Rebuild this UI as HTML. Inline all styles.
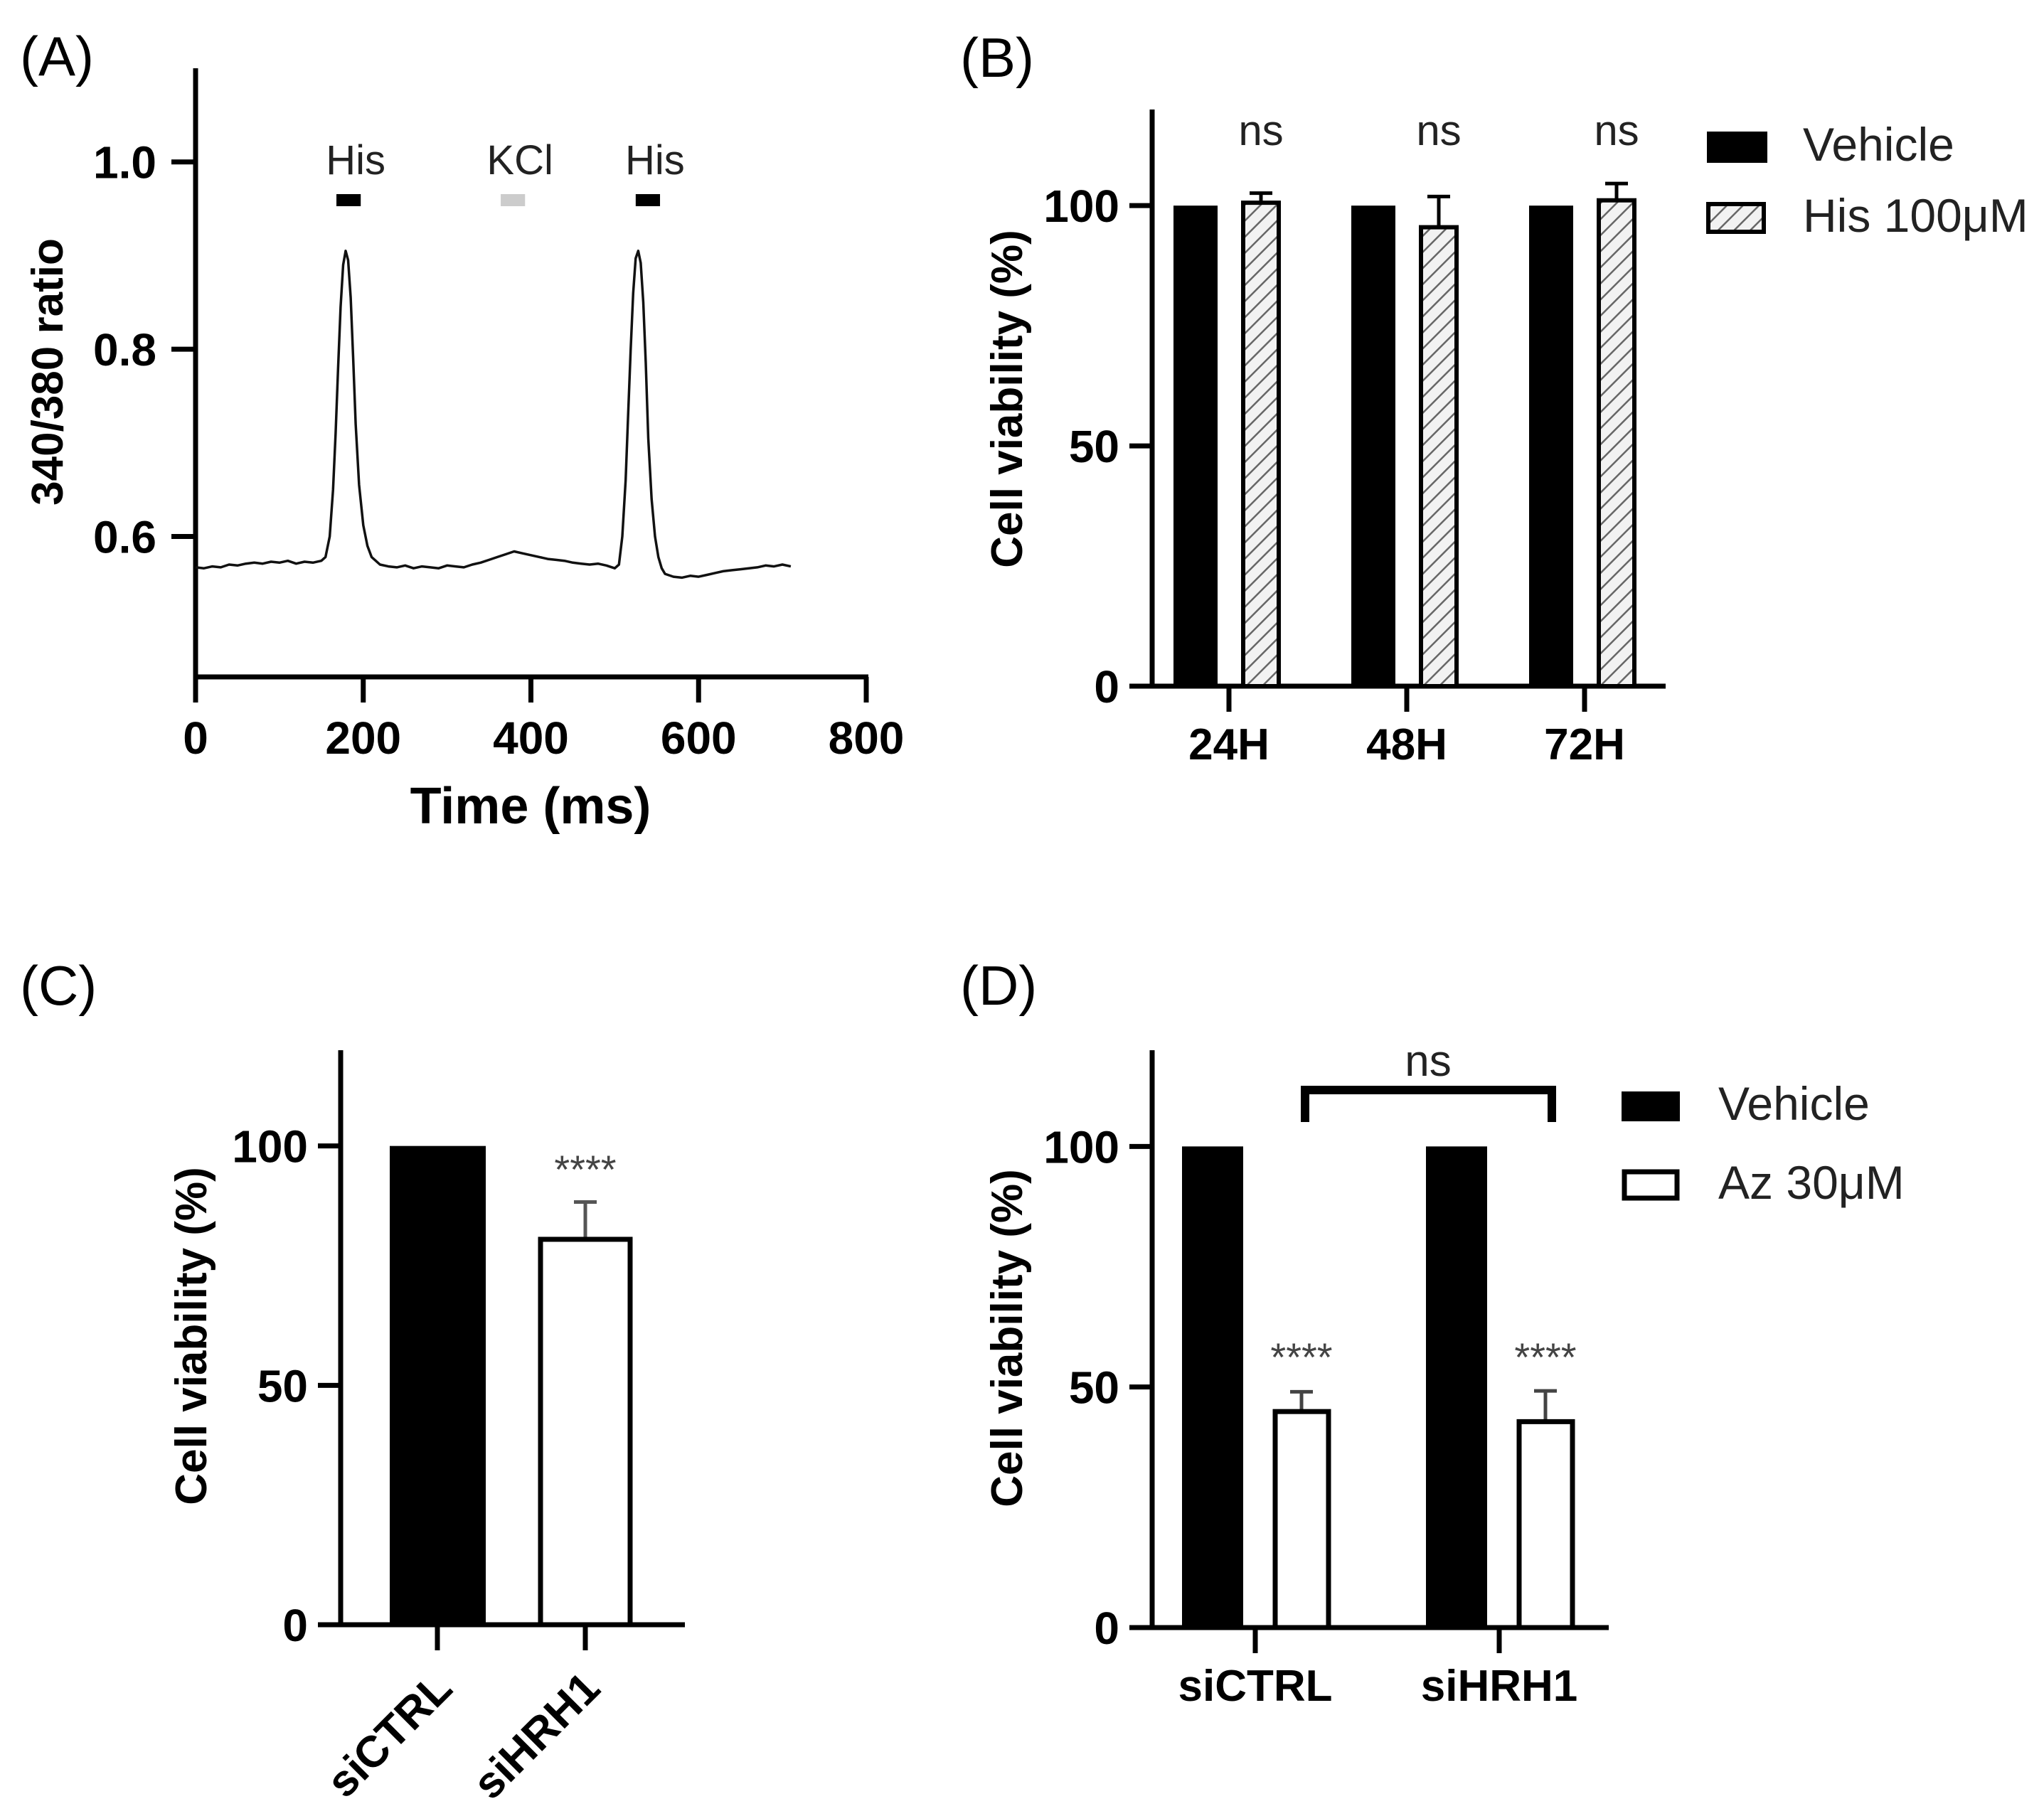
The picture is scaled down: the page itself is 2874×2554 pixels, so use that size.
<!DOCTYPE html>
<html><head><meta charset="utf-8">
<style>
html,body{margin:0;padding:0;background:#fff;}
svg{display:block;font-family:"Liberation Sans",Arial,sans-serif;}
</style></head>
<body>
<svg id="fig" xmlns="http://www.w3.org/2000/svg" width="2874" height="2554" viewBox="0 0 2874 2554">
<defs>
<pattern id="hatch" patternUnits="userSpaceOnUse" width="16" height="16" patternTransform="rotate(45)">
<rect width="16" height="16" fill="#f2f2f2"/>
<line x1="0" y1="0" x2="0" y2="16" stroke="#666" stroke-width="5"/>
</pattern>
</defs>
<text x="28" y="106" font-size="78">(A)</text>
<text x="1350" y="108" font-size="78">(B)</text>
<text x="28" y="1413" font-size="78">(C)</text>
<text x="1350" y="1413" font-size="78">(D)</text>
<g id="gA"></g>
<g id="gB"></g>
<g id="gC"></g>
<g id="gD"></g>
</svg>
<script>
// ---- Panel A data ----
const traceT = [0,10,20,30,40,50,60,70,80,90,100,110,120,130,140,150,155,160,164,167,170,173,176,179,182,185,188,191,195,200,205,210,220,230,240,250,260,270,280,290,300,310,320,330,340,350,360,370,380,390,400,410,420,430,440,450,460,470,480,490,500,505,509,513,516,519,522,525,528,531,534,537,540,544,548,552,556,560,570,580,590,600,610,620,630,640,650,660,670,680,690,700,710];
const traceV = [0.567,0.566,0.568,0.567,0.570,0.569,0.571,0.572,0.571,0.573,0.572,0.574,0.571,0.573,0.572,0.574,0.578,0.600,0.650,0.710,0.780,0.845,0.890,0.905,0.895,0.855,0.790,0.720,0.655,0.612,0.590,0.578,0.570,0.568,0.567,0.569,0.566,0.568,0.567,0.566,0.569,0.568,0.567,0.570,0.572,0.575,0.578,0.581,0.584,0.582,0.580,0.578,0.576,0.575,0.574,0.572,0.571,0.570,0.571,0.569,0.566,0.570,0.600,0.660,0.730,0.800,0.860,0.897,0.905,0.892,0.850,0.785,0.705,0.640,0.600,0.578,0.566,0.560,0.557,0.556,0.558,0.557,0.559,0.561,0.563,0.564,0.565,0.566,0.567,0.569,0.568,0.570,0.568];
const aXTicks = [0,200,400,600,800];
const aYTicks = [0.6,0.8,1.0];
const aYTickLabels = ["0.6","0.8","1.0"];
const aMarkers = ["His","KCl","His"];
const aMarkerStart = [168,364,525];
const aMarkerEnd = [197,393,554];
const aMarkerColor = ["#000","#ccc","#000"];

// ---- Panel B data ----
const bCats = ["24H","48H","72H"];
const bVehicle = [100,100,100];
const bHis = [100.6,95.5,101.1];
const bHisErr = [2.0,6.4,3.5];
const bYTicks = [0,50,100];
const bSig = ["ns","ns","ns"];

// ---- Panel C data ----
const cCats = ["siCTRL","siHRH1"];
const cValues = [100,80.5];
const cErr = [0,7.8];
const cSig = ["","****"];
const cYTicks = [0,50,100];

// ---- Panel D data ----
const dCats = ["siCTRL","siHRH1"];
const dVehicle = [100,100];
const dAz = [44.9,42.8];
const dAzErr = [4.1,6.4];
const dSig = ["****","****"];
const dYTicks = [0,50,100];

const NS = "http://www.w3.org/2000/svg";
function mk(parent, tag, attrs, text){
  const e = document.createElementNS(NS, tag);
  for (const k in attrs) e.setAttribute(k, attrs[k]);
  if (text !== undefined) e.textContent = text;
  parent.appendChild(e);
  return e;
}

// ===== Panel A =====
(function(){
  const g = document.getElementById('gA');
  const x0=275, x1=1218, y0=952, y1=96;
  const xs = v => x0 + (v-0)/800*(x1-x0);
  const ys = v => y0 - (v-0.45)/(1.1-0.45)*(y0-y1);
  let e;
  e = mk(g,'line',{x1:x0,y1:y1,x2:x0,y2:y0+3,stroke:'#000','stroke-width':7});
   
  e = mk(g,'line',{x1:x0-3,y1:y0,x2:x1+3,y2:y0,stroke:'#000','stroke-width':7});
   
  aXTicks.forEach((t)=>{
    const x=xs(t);
    const tk = mk(g,'line',{x1:x,y1:y0,x2:x,y2:988,stroke:'#000','stroke-width':7});
     
    const lb = mk(g,'text',{x:x,y:1060,'font-size':64,'font-weight':'bold','text-anchor':'middle'},String(t));
     
  });
  aYTicks.forEach((t,i)=>{
    const y=ys(t);
    const tk = mk(g,'line',{x1:241,y1:y,x2:x0,y2:y,stroke:'#000','stroke-width':7});
     
    const lb = mk(g,'text',{x:220,y:y+23,'font-size':64,'font-weight':'bold','text-anchor':'end'},aYTickLabels[i]);
     
  });
  e = mk(g,'text',{x:746,y:1158,'font-size':72,'font-weight':'bold','text-anchor':'middle'},'Time (ms)');
   
  e = mk(g,'text',{x:0,y:0,'font-size':62,'font-weight':'bold','text-anchor':'middle',transform:'translate(88,523) rotate(-90)'},'340/380 ratio');
   
  aMarkers.forEach((m,i)=>{
    const xa=xs(aMarkerStart[i]), xb=xs(aMarkerEnd[i]);
    const r = mk(g,'rect',{x:xa,y:273,width:xb-xa,height:17,fill:aMarkerColor[i]});
     
    const lb = mk(g,'text',{x:(xa+xb)/2+10,y:245,'font-size':58,'text-anchor':'middle',fill:'#222'},m);
     
  });
  let d='';
  traceT.forEach((t,i)=>{ d += (i?'L':'M')+xs(t).toFixed(1)+','+ys(traceV[i]).toFixed(1); });
  e = mk(g,'path',{d:d,fill:'none',stroke:'#111','stroke-width':3.5,'stroke-linejoin':'round'});
   
})();

function axesBar(g, pre, x0, x1, y0, yTop, ys, yTicks, tickXs, cats, catY, rotate){
  let e;
  e = mk(g,'line',{x1:x0,y1:yTop,x2:x0,y2:y0+3,stroke:'#000','stroke-width':7});
   
  e = mk(g,'line',{x1:x0-32,y1:y0,x2:x1,y2:y0,stroke:'#000','stroke-width':7});
   
  yTicks.forEach(t=>{
    const y=ys(t);
    const tk = mk(g,'line',{x1:x0-32,y1:y,x2:x0,y2:y,stroke:'#000','stroke-width':7});
     
    const lb = mk(g,'text',{x:x0-46,y:y+23,'font-size':64,'font-weight':'bold','text-anchor':'end'},String(t));
     
  });
  tickXs.forEach((x,i)=>{
    const tk = mk(g,'line',{x1:x,y1:y0,x2:x,y2:y0+36,stroke:'#000','stroke-width':7});
     
    let lb;
    if (rotate){
      lb = mk(g,'text',{x:0,y:0,'font-size':62,'font-weight':'bold','text-anchor':'end',transform:'translate('+(x+24)+','+catY+') rotate(-45)'},cats[i]);
    } else {
      lb = mk(g,'text',{x:x,y:catY,'font-size':62,'font-weight':'bold','text-anchor':'middle'},cats[i]);
    }
     
  });
}
function errBar(g, pre, x, yv, ye, color){
  const l = mk(g,'line',{x1:x,y1:yv,x2:x,y2:ye,stroke:color,'stroke-width':5});
   
  const c = mk(g,'line',{x1:x-16,y1:ye,x2:x+16,y2:ye,stroke:color,'stroke-width':5});
   
}

// ===== Panel B =====
(function(){
  const g = document.getElementById('gB');
  const x0=1620, x1=2342, y0=965, yTop=154;
  const ys = v => y0 - v/120*(y0-yTop);
  const tickXs = bCats.map((c,i)=>1728+i*250);
  axesBar(g,'b',x0,x1,y0,yTop,ys,bYTicks,tickXs,bCats,1068,false);
  let e = mk(g,'text',{x:0,y:0,'font-size':62,'font-weight':'bold','text-anchor':'middle',transform:'translate(1437,561) rotate(-90)'},'Cell viability (%)');
   
  bCats.forEach((c,i)=>{
    const cx=tickXs[i];
    const r1 = mk(g,'rect',{x:cx-78,y:ys(bVehicle[i]),width:62,height:y0-ys(bVehicle[i]),fill:'#000'});
     
    const hy=ys(bHis[i]);
    errBar(g,'b',cx+45,hy,ys(bHis[i]+bHisErr[i]),'#000');
    const r2 = mk(g,'rect',{x:cx+20,y:hy,width:50,height:y0-hy,fill:'url(#hatch)',stroke:'#000','stroke-width':6});
     
    const s = mk(g,'text',{x:cx+45,y:204,'font-size':60,'text-anchor':'middle',fill:'#222'},bSig[i]);
     
  });
  e = mk(g,'rect',{x:2400,y:185,width:85,height:44,fill:'#000'});
   
  e = mk(g,'rect',{x:2402,y:287,width:78,height:39,fill:'url(#hatch)',stroke:'#000','stroke-width':6});
   
  e = mk(g,'text',{x:2535,y:226,'font-size':66,fill:'#222'},'Vehicle');
   
  e = mk(g,'text',{x:2535,y:326,'font-size':66,fill:'#222'},'His 100μM');
   
})();

// ===== Panel C =====
(function(){
  const g = document.getElementById('gC');
  const x0=479, x1=963, y0=2285, yTop=1477;
  const ys = v => y0 - v/120*(y0-yTop);
  const tickXs = [615,823];
  axesBar(g,'c',x0,x1,y0,yTop,ys,cYTicks,tickXs,cCats,2378,true);
  let e = mk(g,'text',{x:0,y:0,'font-size':62,'font-weight':'bold','text-anchor':'middle',transform:'translate(290,1879) rotate(-90)'},'Cell viability (%)');
   
  cCats.forEach((c,i)=>{
    const cx=tickXs[i], y=ys(cValues[i]);
    if (cErr[i]>0) errBar(g,'c',cx,y,ys(cValues[i]+cErr[i]),'#555');
    const r = i===0
      ? mk(g,'rect',{x:cx-67,y:y,width:135,height:y0-y,fill:'#000'})
      : mk(g,'rect',{x:cx-63,y:y,width:126,height:y0-y,fill:'#fff',stroke:'#000','stroke-width':7});
     
    if (cSig[i]){
      const s = mk(g,'text',{x:cx,y:1664,'font-size':56,'text-anchor':'middle',fill:'#444'},cSig[i]);
       
    }
  });
})();

// ===== Panel D =====
(function(){
  const g = document.getElementById('gD');
  const x0=1620, x1=2262, y0=2289, yTop=1477;
  const ys = v => y0 - v/120*(y0-yTop);
  const tickXs = [1765,2108];
  axesBar(g,'d',x0,x1,y0,yTop,ys,dYTicks,tickXs,dCats,2392,false);
  let e = mk(g,'text',{x:0,y:0,'font-size':62,'font-weight':'bold','text-anchor':'middle',transform:'translate(1437,1882) rotate(-90)'},'Cell viability (%)');
   
  dCats.forEach((c,i)=>{
    const cx=tickXs[i];
    const vy=ys(dVehicle[i]);
    const r1 = mk(g,'rect',{x:cx-103,y:vy,width:86,height:y0-vy,fill:'#000'});
     
    const ay=ys(dAz[i]);
    errBar(g,'d',cx+65,ay,ys(dAz[i]+dAzErr[i]),'#444');
    const r2 = mk(g,'rect',{x:cx+28,y:ay,width:75,height:y0-ay,fill:'#fff',stroke:'#000','stroke-width':7});
     
    const s = mk(g,'text',{x:cx+65,y:1928,'font-size':56,'text-anchor':'middle',fill:'#444'},dSig[i]);
     
  });
  e = mk(g,'path',{d:'M1835,1578 L1835,1533 L2182,1533 L2182,1578',fill:'none',stroke:'#000','stroke-width':12});
   
  e = mk(g,'text',{x:2008,y:1513,'font-size':62,'text-anchor':'middle',fill:'#222'},'ns');
   
  e = mk(g,'rect',{x:2280,y:1535,width:82,height:42,fill:'#000'});
   
  e = mk(g,'rect',{x:2284,y:1648,width:74,height:37,fill:'#fff',stroke:'#000','stroke-width':7});
   
  e = mk(g,'text',{x:2416,y:1575,'font-size':66,fill:'#222'},'Vehicle');
   
  e = mk(g,'text',{x:2416,y:1686,'font-size':66,fill:'#222'},'Az 30μM');
   
})();
</script>
</body></html>
